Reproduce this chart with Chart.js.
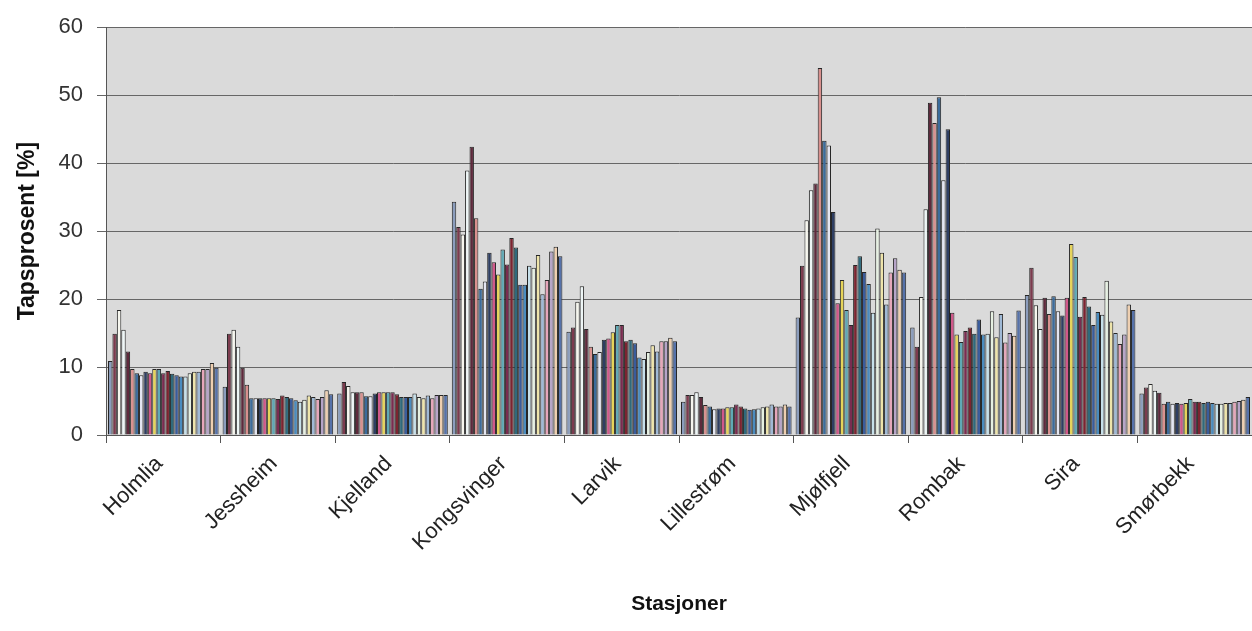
<!DOCTYPE html>
<html><head><meta charset="utf-8">
<script src="https://cdn.jsdelivr.net/npm/chart.js@4/dist/chart.umd.min.js"></script>
<style>html,body{margin:0;padding:0;background:#fff;}canvas{display:block;}</style>
</head><body>
<canvas id="c" width="1252" height="631"></canvas>
<script>
const stations = ['Holmlia','Jessheim','Kjelland','Kongsvinger','Larvik','Lillestrøm','Mjølfjell','Rombak','Sira','Smørbekk'];
const yMin = 0, yMax = 60, yStep = 10;

const holmlia     = [10.9,14.9,18.4,15.5,12.3,9.7,9.1,8.8,9.3,9.1,9.7,9.7,9.1,9.4,9.0,8.8,8.6,8.6,9.1,9.3,9.3,9.7,9.7,10.6,9.9];
const jessheim    = [7.1,14.9,15.5,13.0,9.9,7.4,5.4,5.4,5.4,5.4,5.4,5.4,5.3,5.8,5.6,5.4,5.1,4.9,5.2,5.8,5.6,5.3,5.6,6.6,6.0];
const kjelland    = [6.1,7.8,7.2,6.3,6.3,6.3,5.7,5.7,6.1,6.3,6.3,6.3,6.3,6.0,5.6,5.6,5.6,6.1,5.6,5.4,5.8,5.4,5.9,5.9,5.9];
const kongsvinger = [34.3,30.6,29.5,38.9,42.4,31.9,21.5,22.6,26.8,25.4,23.6,27.3,25.1,29.0,27.6,22.1,22.1,24.9,24.6,26.5,20.7,22.8,27.0,27.7,26.3];
const larvik      = [15.2,15.8,19.6,21.9,15.6,13.0,11.9,12.2,14.0,14.2,15.1,16.2,16.2,13.8,14.0,13.5,11.4,11.2,12.2,13.2,12.3,13.8,13.8,14.3,13.8];
const lillestrom  = [4.9,5.9,5.9,6.3,5.6,4.4,4.2,3.8,3.9,3.9,4.1,4.1,4.5,4.2,3.9,3.7,3.8,3.9,4.1,4.2,4.5,4.2,4.2,4.5,4.2];
const mjolfjell   = [17.3,24.9,31.6,36.0,37.0,54.0,43.3,42.6,32.8,19.4,22.8,18.4,16.2,25.0,26.3,24.0,22.2,18.0,30.4,26.8,19.2,23.9,26.0,24.3,23.9];
const rombak      = [15.8,13.0,20.3,33.2,48.9,45.9,49.7,37.5,45.0,18.0,14.8,13.7,15.3,15.8,14.9,17.0,14.8,14.9,18.2,14.4,17.8,13.6,15.0,14.6,18.3];
const sira        = [20.6,24.6,19.1,15.6,20.2,17.8,20.4,18.2,17.6,20.2,28.1,26.2,17.4,20.3,18.9,16.2,18.1,17.7,22.7,16.7,15.0,13.4,14.8,19.2,18.4];
const smorbekk    = [6.1,7.0,7.5,6.5,6.2,4.6,4.9,4.6,4.7,4.6,4.7,5.3,4.9,4.9,4.7,4.9,4.7,4.6,4.6,4.7,4.7,4.9,5.0,5.2,5.6];

const palette = ['#8b9dbd','#7c3b4e','#f6f6ee','#eef6f6','#5e2a3c','#d9908e','#3c6c9c','#e4e6f2','#2e3e62','#d0588a',
                 '#e6d45a','#5fa9b5','#7a2c50','#7c2430','#2f6a7c','#3a5c9c','#4a8cbf','#c6e0ea','#e6f0e2','#eee4aa',
                 '#9fb9d6','#e6a6ba','#b6a4c8','#eecfb0','#5672aa'];

const stationValues = [holmlia,jessheim,kjelland,kongsvinger,larvik,lillestrom,mjolfjell,rombak,sira,smorbekk];
const datasets = palette.map((col, i) => ({
  label: 'Serie ' + (i + 1),
  data: stationValues.map(s => s[i]),
  backgroundColor: col,
  borderColor: '#262626',
  borderWidth: 1,
  categoryPercentage: 0.965,
  barPercentage: 1.0
}));

const plotBg = {
  id: 'plotBg',
  beforeDraw(chart) {
    const {ctx, chartArea: a} = chart;
    ctx.save();
    ctx.fillStyle = '#dadada';
    ctx.fillRect(a.left, a.top, a.right - a.left, a.bottom - a.top);
    ctx.restore();
  }
};

const FONT = "'Liberation Sans', Arial, sans-serif";

new Chart(document.getElementById('c'), {
  type: 'bar',
  data: { labels: stations, datasets },
  plugins: [plotBg],
  options: {
    responsive: false,
    animation: false,
    devicePixelRatio: 1,
    layout: { padding: { left: 0, right: 0, top: 25, bottom: 0 } },
    plugins: { legend: { display: false }, tooltip: { enabled: false } },
    scales: {
      x: {
        grid: { offset: true, drawOnChartArea: false, drawTicks: true, tickLength: 8, color: '#555' },
        border: { display: true, color: '#555' },
        ticks: { font: { family: FONT, size: 22 }, color: '#222', maxRotation: 45, minRotation: 45, padding: 8, labelOffset: -4 },
        title: { display: true, text: 'Stasjoner', font: { family: FONT, size: 21, weight: 'bold' }, color: '#111', padding: { top: 4, bottom: 14 } },
        afterFit(s) { s.height = 196; }
      },
      y: {
        min: yMin, max: yMax,
        ticks: { stepSize: yStep, font: { family: FONT, size: 22 }, color: '#333', padding: 14 },
        grid: { color: '#666', tickLength: 9 },
        border: { display: true, color: '#555' },
        title: { display: true, text: 'Tapsprosent [%]', font: { family: FONT, size: 23, weight: 'bold' }, color: '#111', padding: { top: 14, bottom: 4 } },
        afterFit(s) { s.width = 106; }
      }
    }
  }
});
</script>
</body></html>
